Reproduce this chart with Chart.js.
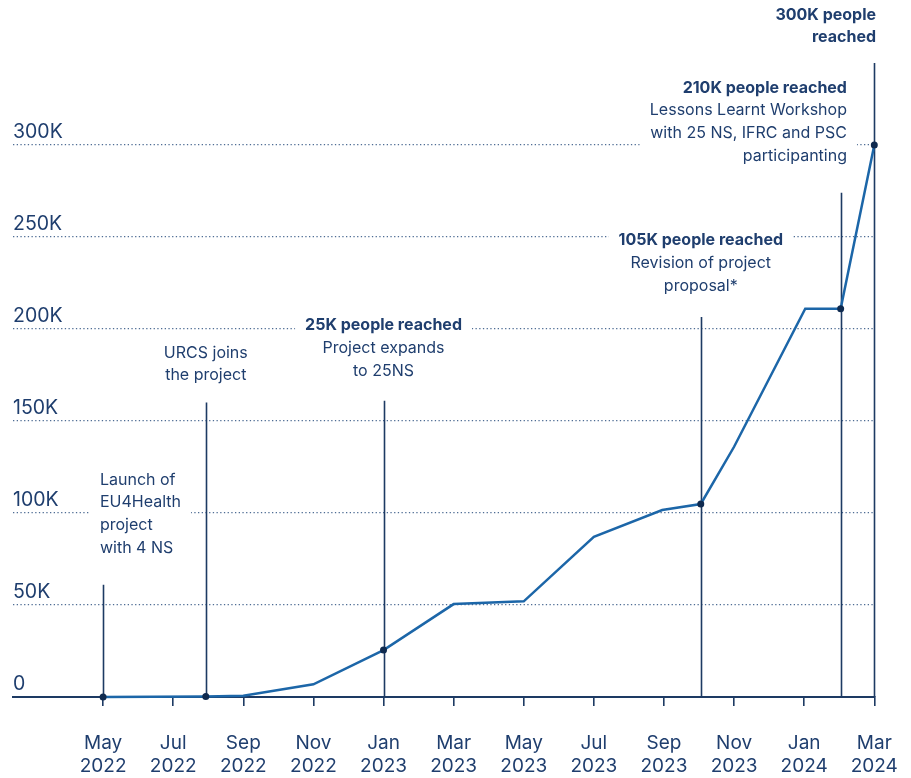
<!DOCTYPE html>
<html>
<head>
<meta charset="utf-8">
<script src="https://cdn.jsdelivr.net/npm/chart.js@4"></script>
<style>
  html, body { margin: 0; padding: 0; background: #fff; }
  #wrap { width: 911px; height: 778px; position: relative; }
</style>
</head>
<body>
<div id="wrap"><canvas id="chart"></canvas></div>
<script>
// months counted from May 2022 (0) to Mar 2024 (22)
const months  = [0, 2.93, 4, 6, 8, 10, 12, 14, 15.95, 17.05, 18, 20.03, 21.04, 22]
const reached = [0, 250, 700, 6900, 25500, 50500, 52000, 87000, 101600, 104900, 136000, 211000, 211000, 300000]
const marked  = [true, true, false, false, true, false, false, false, false, true, false, false, true, true]

const xTicks  = [0, 2, 4, 6, 8, 10, 12, 14, 16, 18, 20, 22]
const xLabels = [['May', '2022'], ['Jul', '2022'], ['Sep', '2022'], ['Nov', '2022'], ['Jan', '2023'], ['Mar', '2023'],
                 ['May', '2023'], ['Jul', '2023'], ['Sep', '2023'], ['Nov', '2023'], ['Jan', '2024'], ['Mar', '2024']]
const yTicks  = [0, 50000, 100000, 150000, 200000, 250000, 300000]
const yLabels = ['0', '50K', '100K', '150K', '200K', '250K', '300K']

// milestones: month of the marker line, top of the line, text block
const notes = [
  { m: 0,     top: 61000,  tx: -0.09, ty: 118000, align: 'left',   bold: 0, text: ['Launch of', 'EU4Health', 'project', 'with 4 NS'] },
  { m: 2.93,  top: 160000, tx: 2.93,  ty: 187000, align: 'center', bold: 0, text: ['URCS joins', 'the project'] },
  { m: 8,     top: 161000, tx: 8,     ty: 202000, align: 'center', bold: 1, text: ['25K people reached', 'Project expands', 'to 25NS'] },
  { m: 17.05, top: 206500, tx: 17.05, ty: 248000, align: 'center', bold: 1, text: ['105K people reached', 'Revision of project', 'proposal*'] },
  { m: 21.04, top: 274000, tx: 21.22, ty: 331000, align: 'right',  bold: 1, text: ['210K people reached', 'Lessons Learnt Workshop', 'with 25 NS, IFRC and PSC', 'participanting'] },
  { m: 22,    top: 344600, tx: 22.05, ty: 370700, align: 'right',  bold: 2, text: ['300K people', 'reached'] }
]

const navy  = '#1d3a63'
const texto = '#1f3e6e'
const azul  = '#1c66a8'
const fontFam = 'Inter, "Open Sans", sans-serif'

// ── notas y lineas verticales ──
const notesPlugin = {
  id: 'notes',
  beforeDatasetsDraw(chart) {
    const { ctx, scales: { x, y } } = chart
    const lh = 22.7
    ctx.save()
    notes.forEach(n => {
      const px = x.getPixelForValue(n.tx)
      const py = y.getPixelForValue(n.ty)
      // white backing box
      let w = 0
      n.text.forEach((t, i) => {
        ctx.font = (i < n.bold ? '700 ' : '400 ') + '16px ' + fontFam
        w = Math.max(w, ctx.measureText(t).width)
      })
      let left = n.align === 'left' ? px : n.align === 'right' ? px - w : px - w / 2
      ctx.fillStyle = '#fff'
      ctx.fillRect(left - 10, py - 12, w + 20, lh * n.text.length + 2)
      // text
      ctx.textAlign = n.align
      ctx.textBaseline = 'middle'
      n.text.forEach((t, i) => {
        ctx.font = (i < n.bold ? '700 ' : '400 ') + '16px ' + fontFam
        ctx.fillStyle = texto
        ctx.fillText(t, px, py + i * lh)
      })
      // vertical marker
      const lx = Math.round(x.getPixelForValue(n.m)) + 0.5
      ctx.strokeStyle = navy
      ctx.lineWidth = 1.6
      ctx.beginPath()
      ctx.moveTo(lx, y.getPixelForValue(n.top))
      ctx.lineTo(lx, y.getPixelForValue(0))
      ctx.stroke()
    })
    ctx.restore()
  }
}

new Chart(document.getElementById('chart'), {
  type: 'line',
  data: {
    datasets: [{
      data: months.map((m, i) => ({ x: m, y: reached[i] })),
      borderColor: azul,
      borderWidth: 2.5,
      tension: 0,
      clip: false,
      pointRadius: marked.map(v => v ? 3.5 : 0),
      pointBackgroundColor: '#0f2a4f',
      pointBorderWidth: 0
    }]
  },
  options: {
    responsive: true,
    maintainAspectRatio: false,
    animation: false,
    layout: { padding: { left: 13, right: 36.7, top: 145, bottom: 0 } },
    plugins: { legend: { display: false }, tooltip: { enabled: false } },
    scales: {
      x: {
        type: 'linear',
        min: -2.57,
        max: 22,
        afterBuildTicks: axis => { axis.ticks = xTicks.map(v => ({ value: v })) },
        afterFit: axis => {
          axis.height = 81
          axis.paddingLeft = 0
          axis.paddingRight = 0
        },
        ticks: {
          color: texto,
          padding: 26,
          maxRotation: 0,
          autoSkip: false,
          font: { family: fontFam, size: 19, lineHeight: 1.22 },
          callback: (v) => xLabels[xTicks.indexOf(v)]
        },
        grid: { drawOnChartArea: false, drawTicks: true, tickLength: 9, color: navy, lineWidth: 1.6 },
        border: { display: true, color: navy, width: 2 }
      },
      y: {
        min: 0,
        max: 300000,
        afterBuildTicks: axis => { axis.ticks = yTicks.map(v => ({ value: v })) },
        ticks: {
          mirror: true,
          padding: 0,
          labelOffset: -13,
          color: texto,
          font: { family: fontFam, size: 19.5 },
          callback: (v) => yLabels[yTicks.indexOf(v)]
        },
        grid: { drawTicks: false, color: '#4f6d94', lineWidth: 1.3 },
        border: { display: false, dash: [1.3, 2.4] }
      }
    }
  },
  plugins: [notesPlugin]
})
</script>
</body>
</html>
